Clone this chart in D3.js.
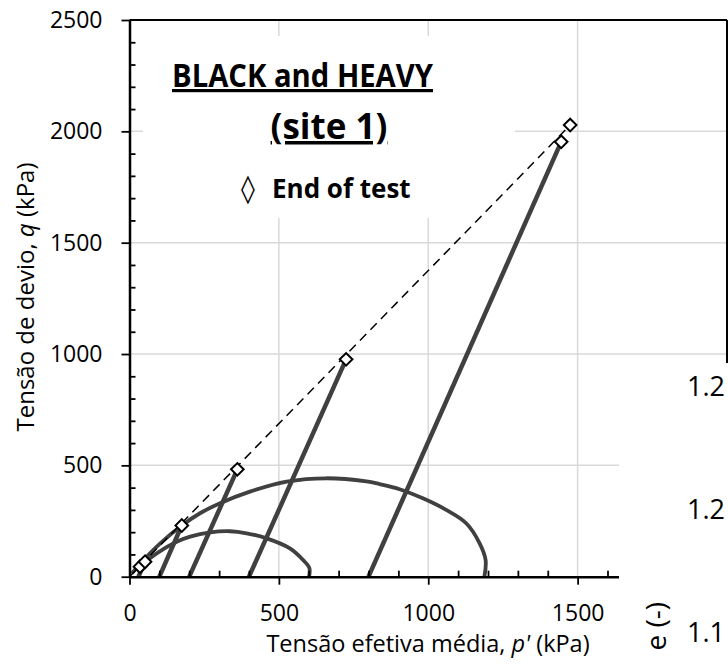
<!DOCTYPE html>
<html>
<head>
<meta charset="utf-8">
<script src="https://cdn.jsdelivr.net/npm/d3@7"></script>
<style>
  body { margin: 0; background: #fff; }
  text { font-family: "Open Sans", "Liberation Sans", sans-serif; }
</style>
</head>
<body>
<div id="chart"></div>
<script>
const PATH_COLOR = "#404040";
const GRID_COLOR = "#d9d9d9";

// axis ticks
const xMajor = [0, 500, 1000, 1500];
const xMinor = [100, 200, 300, 400, 600, 700, 800, 900, 1100, 1200, 1300, 1400, 1600, 1700, 1800, 1900];
const yMajor = [0, 500, 1000, 1500, 2000, 2500];
const yMinor = [100, 200, 300, 400, 600, 700, 800, 900, 1100, 1200, 1300, 1400, 1600, 1700, 1800, 1900, 2100, 2200, 2300, 2400];

// drained stress paths (p', q) in kPa
const drained30 = [[30, 0], [52, 67]];
const drained100 = [[100, 0], [175, 230]];
const drained200 = [[200, 0], [361, 482]];
const drained400 = [[400, 0], [725, 976]];
const drained800 = [[800, 0], [1445, 1953]];

// undrained stress paths
const undrained600 = [[601, 0], [602, 39], [581, 75], [537, 127], [459, 172], [392, 195], [336, 204],
    [270, 199], [203, 180], [158, 157], [91, 105], [47, 60], [35, 45]];
const undrained1200 = [[1188, 0], [1192, 75], [1172, 150], [1127, 240], [1060, 300], [982, 352],
    [904, 393], [837, 416], [793, 428], [659, 442], [526, 427], [403, 382], [303, 330], [236, 285],
    [175, 230], [103, 150], [47, 75], [8, 15]];

// end of test points and failure line
const endOfTest = [[35, 45], [52, 67], [175, 230], [361, 482], [725, 976], [1445, 1953], [1475, 2028]];
const failureLine = [[0, 0], [1475, 2028]];

// right-hand chart fragment (void ratio axis), only its first characters show
const eTicks = [1.15, 1.20, 1.25];

const margin = { top: 20, left: 129.5 };
const width = 727 - margin.left;
const height = 576.7 - margin.top;

const svg = d3.select("#chart")
    .append("svg")
    .attr("width", 728)
    .attr("height", 668);

const x = d3.scaleLinear().domain([0, 2000]).range([margin.left, margin.left + width]);
const y = d3.scaleLinear().domain([0, 2500]).range([margin.top + height, margin.top]);

// gridlines
svg.append("g")
    .selectAll("line")
    .data([500, 1000, 1500, 2000])
    .join("line")
    .attr("x1", x(0)).attr("x2", x(2000))
    .attr("y1", d => y(d)).attr("y2", d => y(d))
    .attr("stroke", GRID_COLOR)
    .attr("stroke-width", 1.5);

svg.append("g")
    .selectAll("line")
    .data([500, 1000, 1500])
    .join("line")
    .attr("y1", y(0)).attr("y2", y(2500))
    .attr("x1", d => x(d)).attr("x2", d => x(d))
    .attr("stroke", GRID_COLOR)
    .attr("stroke-width", 1.5);

// white text boxes sitting on the plot area
svg.append("rect").attr("x", 143).attr("y", 36).attr("width", 372).attr("height", 126).attr("fill", "#fff");
svg.append("rect").attr("x", 232).attr("y", 160).attr("width", 200).attr("height", 58).attr("fill", "#fff");

// frame top and right
svg.append("line")
    .attr("x1", x(0)).attr("x2", x(2000))
    .attr("y1", y(2500)).attr("y2", y(2500))
    .attr("stroke", "#000").attr("stroke-width", 2);
svg.append("line")
    .attr("x1", x(2000)).attr("x2", x(2000))
    .attr("y1", y(2500)).attr("y2", y(0))
    .attr("stroke", "#000").attr("stroke-width", 2);

// stress paths
const line = d3.line().x(d => x(d[0])).y(d => y(d[1]));
const curve = d3.line().x(d => x(d[0])).y(d => y(d[1])).curve(d3.curveCatmullRom);

[undrained600, undrained1200].forEach(path => {
    svg.append("path")
        .attr("d", curve(path))
        .attr("fill", "none")
        .attr("stroke", PATH_COLOR)
        .attr("stroke-width", 3.8);
});

[drained30, drained100, drained200, drained400, drained800].forEach(path => {
    svg.append("path")
        .attr("d", line(path))
        .attr("fill", "none")
        .attr("stroke", PATH_COLOR)
        .attr("stroke-width", 4.5);
});

svg.append("path")
    .attr("d", line(failureLine))
    .attr("fill", "none")
    .attr("stroke", "#000")
    .attr("stroke-width", 1.5)
    .attr("stroke-dasharray", "9,6");

svg.append("g")
    .selectAll("path")
    .data(endOfTest)
    .join("path")
    .attr("d", d3.symbol(d3.symbolSquare, 80))
    .attr("transform", d => "translate(" + x(d[0]) + "," + y(d[1]) + ") rotate(45)")
    .attr("fill", "#fff")
    .attr("stroke", "#000")
    .attr("stroke-width", 2);

// axes
const yAxis = d3.axisLeft(y)
    .tickValues(yMajor)
    .tickSize(8)
    .tickSizeOuter(0)
    .tickPadding(19)
    .tickFormat(d3.format("d"));
const yAxisMinor = d3.axisLeft(y)
    .tickValues(yMinor)
    .tickSize(-6)
    .tickFormat("");
const xAxis = d3.axisBottom(x)
    .tickValues(xMajor)
    .tickSize(8)
    .tickSizeOuter(0)
    .tickPadding(20)
    .tickFormat(d3.format("d"));
const xAxisMinor = d3.axisBottom(x)
    .tickValues(xMinor)
    .tickSize(-6)
    .tickFormat("");

svg.append("g").attr("transform", "translate(" + x(0) + ",0)").call(yAxisMinor)
    .call(g => g.select(".domain").remove());
svg.append("g").attr("transform", "translate(0," + y(0) + ")").call(xAxisMinor)
    .call(g => g.select(".domain").remove());

const gy = svg.append("g").attr("transform", "translate(" + x(0) + ",0)").call(yAxis);
const gx = svg.append("g").attr("transform", "translate(0," + y(0) + ")").call(xAxis);

svg.selectAll(".tick line").attr("stroke", "#000").attr("stroke-width", 1.8);
[gx, gy].forEach(g => {
    g.select(".domain").attr("stroke", "#000").attr("stroke-width", 2.5);
    g.selectAll("text")
        .attr("fill", "#000")
        .style("font-size", "23px");
});

// axis titles
const xTitle = svg.append("text")
    .attr("x", 428)
    .attr("y", 652)
    .attr("text-anchor", "middle")
    .style("font-size", "23.5px");
xTitle.append("tspan").text("Tensão efetiva média, ");
xTitle.append("tspan").style("font-style", "italic").text("p'");
xTitle.append("tspan").text(" (kPa)");

const yTitle = svg.append("text")
    .attr("transform", "translate(34," + 297 + ") rotate(-90)")
    .attr("text-anchor", "middle")
    .style("font-size", "24px");
yTitle.append("tspan").text("Tensão de devio, ");
yTitle.append("tspan").style("font-style", "italic").text("q");
yTitle.append("tspan").text(" (kPa)");

// title and legend
svg.append("text")
    .attr("x", 172)
    .attr("y", 87)
    .attr("textLength", 261)
    .attr("lengthAdjust", "spacingAndGlyphs")
    .style("font-size", "32px")
    .style("font-weight", "bold")
    .style("text-decoration", "underline")
    .text("BLACK and HEAVY");
svg.append("text")
    .attr("x", 329)
    .attr("y", 139)
    .attr("text-anchor", "middle")
    .style("font-size", "35px")
    .style("font-weight", "bold")
    .style("text-decoration", "underline")
    .text("(site 1)");

const legend = svg.append("text")
    .attr("y", 198);
legend.append("tspan")
    .attr("x", 241)
    .style("font-family", "'DejaVu Sans', sans-serif")
    .style("font-size", "28px")
    .text("◊");
legend.append("tspan")
    .attr("x", 272)
    .style("font-size", "26px")
    .style("font-weight", "bold")
    .text("End of test");

// right-hand chart, mostly outside the picture
const right = svg.append("g");
right.append("rect")
    .attr("x", 619).attr("y", 363)
    .attr("width", 110).attr("height", 306)
    .attr("fill", "#fff");

const e = d3.scaleLinear().domain([1.15, 1.25]).range([633, 387]);
right.selectAll("text.etick")
    .data(eTicks)
    .join("text")
    .attr("class", "etick")
    .attr("x", 687)
    .attr("y", d => e(d))
    .attr("dy", "0.35em")
    .style("font-size", "27px")
    .text(d => d.toFixed(2).slice(0, 3));

right.append("text")
    .attr("transform", "translate(666,602) rotate(-90)")
    .attr("text-anchor", "end")
    .style("font-size", "28px")
    .text("e (-)");
</script>
</body>
</html>
